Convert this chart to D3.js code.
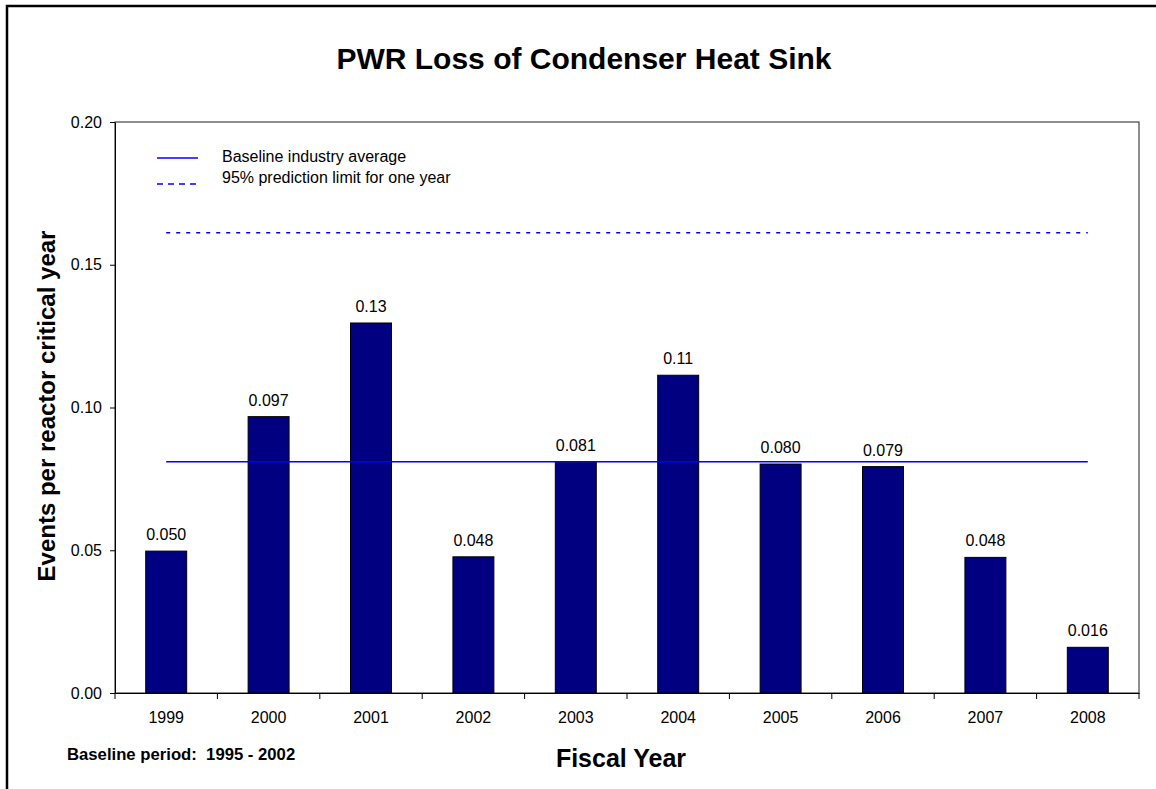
<!DOCTYPE html>
<html>
<head>
<meta charset="utf-8">
<script src="https://cdn.jsdelivr.net/npm/d3@7"></script>
<style>
  html, body { margin: 0; padding: 0; background: #fff; }
  svg { display: block; font-family: Arial, "Liberation Sans", sans-serif; }
</style>
</head>
<body>
<svg id="chart" width="1156" height="789"></svg>
<script>
const years = ["1999","2000","2001","2002","2003","2004","2005","2006","2007","2008"];
const rates = [0.0497, 0.0968, 0.1296, 0.0477, 0.0808, 0.1113, 0.0802, 0.0793, 0.0475, 0.0160];
const rateLabels = ["0.050","0.097","0.13","0.048","0.081","0.11","0.080","0.079","0.048","0.016"];
const yTicks = [0, 0.05, 0.10, 0.15, 0.20];
const baselineAverage = 0.081;
const predictionLimit = 0.1612;
const legendItems = ["Baseline industry average", "95% prediction limit for one year"];

const svg = d3.select("#chart");
const W = 1156, H = 789;
const margin = {left: 115, top: 122, right: 1156 - 1139, bottom: 789 - 693};
const FONT = "Arial, 'Liberation Sans', sans-serif";

// outer frame
svg.append("rect").attr("x", 7).attr("y", 6).attr("width", W + 10).attr("height", H + 10)
  .attr("fill", "#fff").attr("stroke", "#000").attr("stroke-width", 2.5);

const x = d3.scaleBand().domain(years).range([margin.left, W - margin.right]).paddingInner(0.6).paddingOuter(0.3);
const xTickScale = d3.scaleBand().domain(years).range([margin.left, W - margin.right]);
const y = d3.scaleLinear().domain([0, 0.20]).range([H - margin.bottom, margin.top]);

// plot frame (top/right)
svg.append("rect").attr("x", margin.left).attr("y", margin.top)
  .attr("width", W - margin.right - margin.left).attr("height", H - margin.bottom - margin.top)
  .attr("fill", "none").attr("stroke", "#444").attr("stroke-width", 1.2);

// bars
svg.append("g").selectAll("rect").data(years).join("rect")
  .attr("x", d => x(d)).attr("width", x.bandwidth())
  .attr("y", (d, i) => y(rates[i])).attr("height", (d, i) => y(0) - y(rates[i]))
  .attr("fill", "#000080").attr("stroke", "#000").attr("stroke-width", 1);

// bar labels
svg.append("g").selectAll("text").data(years).join("text")
  .attr("x", d => x(d) + x.bandwidth() / 2).attr("y", (d, i) => y(rates[i]) - 11)
  .attr("text-anchor", "middle").attr("font-size", 16).attr("fill", "#000")
  .text((d, i) => rateLabels[i]);

// reference lines
const lineX0 = xTickScale(years[0]) + xTickScale.bandwidth() / 2;
const lineX1 = xTickScale(years[years.length - 1]) + xTickScale.bandwidth() / 2;
svg.append("line").attr("x1", lineX0).attr("x2", lineX1)
  .attr("y1", y(baselineAverage)).attr("y2", y(baselineAverage))
  .attr("stroke", "#0000ff").attr("stroke-width", 1.3);
svg.append("line").attr("x1", lineX0).attr("x2", lineX1)
  .attr("y1", y(predictionLimit)).attr("y2", y(predictionLimit))
  .attr("stroke", "#0000ff").attr("stroke-width", 1.5).attr("stroke-dasharray", "4,6");

// y axis
const yAxis = svg.append("g").attr("transform", `translate(${margin.left},0)`)
  .call(d3.axisLeft(y).tickValues(yTicks).tickFormat(d3.format(".2f")).tickSize(5).tickSizeOuter(0));
yAxis.select(".domain").attr("stroke", "#000");
yAxis.selectAll(".tick line").attr("stroke", "#000");
yAxis.selectAll("text").attr("font-size", 16).attr("font-family", FONT).attr("fill", "#000").attr("dx", "-5");

// x axis
const xAxis = svg.append("g").attr("transform", `translate(0,${H - margin.bottom})`)
  .call(d3.axisBottom(xTickScale).tickSize(0).tickSizeOuter(0));
xAxis.select(".domain").attr("stroke", "#000");
xAxis.selectAll("text").attr("font-size", 16).attr("font-family", FONT).attr("fill", "#000")
  .attr("dy", null).attr("y", 30);
svg.append("g").selectAll("line").data(years.concat(["end"])).join("line")
  .attr("x1", (d, i) => margin.left + i * xTickScale.step())
  .attr("x2", (d, i) => margin.left + i * xTickScale.step())
  .attr("y1", H - margin.bottom).attr("y2", H - margin.bottom + 6)
  .attr("stroke", "#000");

// legend
const legend = svg.append("g");
legendItems.forEach((t, i) => {
  const ly = 158 + i * 26;
  legend.append("line").attr("x1", 157).attr("x2", 198).attr("y1", ly).attr("y2", ly)
    .attr("stroke", "#0000ff").attr("stroke-width", 1.3).attr("stroke-dasharray", i ? "6,5" : null);
  legend.append("text").attr("x", 222).attr("y", 162 + i * 21).attr("font-size", 16).text(t);
});

// titles
svg.append("text").attr("x", 584).attr("y", 69).attr("text-anchor", "middle")
  .attr("font-size", 30).attr("font-weight", "bold").text("PWR Loss of Condenser Heat Sink");
svg.append("text").attr("x", 621).attr("y", 767).attr("text-anchor", "middle")
  .attr("font-size", 25).attr("font-weight", "bold").text("Fiscal Year");
svg.append("text").attr("transform", "translate(55,406) rotate(-90)").attr("text-anchor", "middle")
  .attr("font-size", 24).attr("font-weight", "bold").text("Events per reactor critical year");
svg.append("text").attr("x", 67).attr("y", 760)
  .attr("font-size", 16.7).attr("font-weight", "bold").style("white-space", "pre")
  .text("Baseline period:  1995 - 2002");
</script>
</body>
</html>
